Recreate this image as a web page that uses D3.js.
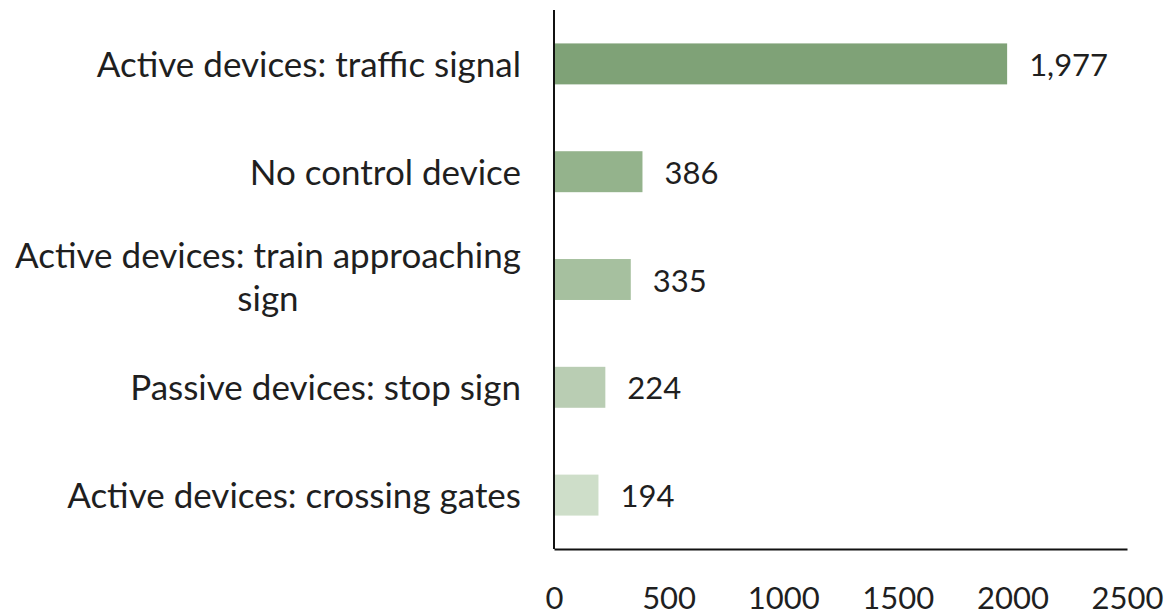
<!DOCTYPE html>
<html>
<head>
<meta charset="utf-8">
<script src="https://cdn.jsdelivr.net/npm/d3@7"></script>
<style>
  body { margin: 0; background: #fff; }
  svg text { font-family: Lato, "Open Sans", sans-serif; fill: #1f1f1f; }
</style>
</head>
<body>
<div id="chart"></div>
<script>
const categories = [
    'Active devices: traffic signal',
    'No control device',
    'Active devices: train approaching sign',
    'Passive devices: stop sign',
    'Active devices: crossing gates'
];
const values = [1977, 386, 335, 224, 194];
const barColors = ['#7fa277', '#94b38c', '#a6c09f', '#b9cdb3', '#cedec9'];
const tickValues = [0, 500, 1000, 1500, 2000, 2500];

// label lines as they wrap in the original
const labelLines = {
    'Active devices: train approaching sign': ['Active devices: train approaching', 'sign']
};

let width = 1166,
    height = 615,
    margin = {left: 554, top: 10, right: 39, bottom: 66},
    labelSize = 35,
    numSize = 31,
    font = `${labelSize}px Lato`;

let svg = d3.select('#chart').append('svg')
    .attr('width', width)
    .attr('height', height);

let x = d3.scaleLinear()
    .domain([0, 2500])
    .range([margin.left, width - margin.right]);

let y = d3.scaleBand()
    .domain(categories)
    .range([margin.top, height - margin.bottom])
    .paddingInner(0.62)
    .paddingOuter(0.31);

let data = categories.map((c, i) => ({name: c, value: values[i], color: barColors[i]}));

svg.append('g')
    .selectAll('rect')
    .data(data)
    .join('rect')
    .attr('x', x(0))
    .attr('y', d => y(d.name))
    .attr('width', d => x(d.value) - x(0))
    .attr('height', y.bandwidth())
    .attr('fill', d => d.color);

// value labels
svg.append('g')
    .selectAll('text')
    .data(data)
    .join('text')
    .attr('x', d => x(d.value) + 22)
    .attr('y', d => y(d.name) + y.bandwidth() / 2)
    .attr('dominant-baseline', 'central')
    .style('font-size', numSize + 'px')
    .text(d => d3.format(',')(d.value));

// category labels (right aligned, wrapped ones centered on their block)
const labelRight = margin.left - 33;
const lineHeight = 43;
const catG = svg.append('g');
data.forEach(d => {
    const lines = labelLines[d.name] || [d.name];
    const cy = y(d.name) + y.bandwidth() / 2 - 1;
    const maxW = d3.max(lines, l => getTextWidth(l, font));
    const anchorX = lines.length > 1 ? labelRight - maxW / 2 : labelRight;
    lines.forEach((l, i) => {
        catG.append('text')
            .attr('x', anchorX)
            .attr('y', cy + (i - (lines.length - 1) / 2) * lineHeight - (lines.length > 1 ? 3 : 0))
            .attr('text-anchor', lines.length > 1 ? 'middle' : 'end')
            .attr('dominant-baseline', 'central')
            .style('font-size', labelSize + 'px')
            .text(l);
    });
});

// axis lines
svg.append('line')
    .attr('x1', x(0)).attr('x2', x(0))
    .attr('y1', margin.top).attr('y2', height - margin.bottom)
    .attr('stroke', '#111')
    .attr('stroke-width', 2);

let xAxis = svg.append('g')
    .attr('transform', `translate(0, ${height - margin.bottom})`)
    .call(d3.axisBottom(x).tickValues(tickValues).tickSize(0).tickPadding(38).tickFormat(d3.format('d')));

xAxis.select('.domain')
    .attr('stroke', '#111')
    .attr('stroke-width', 2);

xAxis.attr('font-family', null).attr('font-size', null);
xAxis.selectAll('text')
    .style('font-size', numSize + 'px')
    .attr('fill', '#1f1f1f');

function getTextWidth(text, font) {
    let canvas = getTextWidth.canvas || (getTextWidth.canvas = document.createElement('canvas'));
    let context = canvas.getContext('2d');
    context.font = font;
    return context.measureText(text).width;
}
</script>
</body>
</html>
